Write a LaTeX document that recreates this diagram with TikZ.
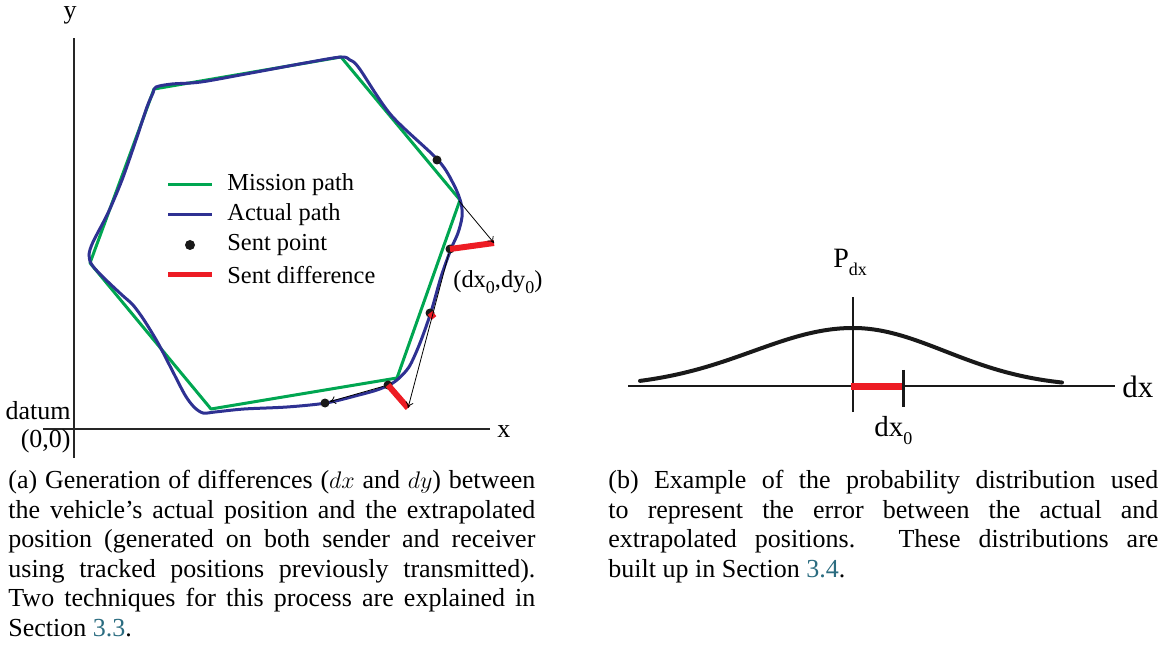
\documentclass[tikz,border=0pt]{standalone}
\usepackage{fontspec}
\setmainfont{Liberation Serif}
\usetikzlibrary{arrows.meta}
\definecolor{missiongreen}{HTML}{00A651}
\definecolor{actualblue}{HTML}{2E3192}
\definecolor{diffred}{HTML}{ED1C24}
\definecolor{linkteal}{HTML}{2B6C80}
\newcommand{\lowsub}[1]{\raisebox{-0.6ex}{\fontsize{9}{10}\selectfont #1}}
\newcommand{\capline}[2]{\hbox to #1{#2}}

\begin{document}
\begin{tikzpicture}[x=0.5pt,y=-0.5pt,font=\fontsize{12.2}{14.5}\selectfont,
 mission/.style={draw=missiongreen,line width=1.5pt,line join=round},
 actual/.style={draw=actualblue,line width=1.5pt},
 sentdiff/.style={draw=diffred,line width=3pt},
 sentpt/.style={circle,fill=black!90,inner sep=0pt,minimum size=4.5pt},
 extrap/.style={draw=black,line width=0.4pt,-{To[length=3pt,width=4pt]}},
 axis/.style={draw=black!85,line width=0.75pt},
 lbl/.style={font=\fontsize{13}{15}\selectfont,inner sep=0pt},
 legtext/.style={anchor=west,inner sep=0pt},
 caption/.style={anchor=north west,inner sep=0pt,align=left,font=\fontsize{13}{14.75}\selectfont}]
\useasboundingbox (0,0) rectangle (1164,658);
% (a) differences
\coordinate (ytop) at (74,38); \coordinate (ybot) at (74,458);
\coordinate (xleft) at (43,429); \coordinate (xright) at (490,429);
\draw[axis] (ybot) -- (ytop);
\draw[axis] (xleft) -- (xright);
\node[lbl] (ylbl) at (70,15) {y};
\node[lbl,anchor=west] (xlbl) at (497,432) {x};
\node[lbl,anchor=base east] (datum) at (71,420) {datum};
\node[lbl,anchor=base east] (origin) at (71,447) {(0,0)};
\draw[mission] (154,89) -- (341,57) -- (460,200) -- (397,378) -- (211,409) -- (90,263) -- cycle;
\draw[actual] plot[smooth cycle,tension=0.5] coordinates {(156,87) (172,84) (201,82) (251,73) (305,63) (341,57) (350,60) (359,68) (391,115) (438,160) (454,185) (461,203) (462,217) (458,233) (451,249) (441,277) (431,312) (420,343) (409,367) (397,380) (389,385) (377,390) (359,395) (326,403) (287,407) (244,409) (215,412) (203,413) (194,407) (185,395) (172,370) (158,343) (144,320) (133,305) (122,295) (104,278) (92,265) (89,255) (93,242) (108,213) (122,180) (136,140) (147,107) (153,93)};
\node[sentpt] (p1) at (437,160) {};
\node[sentpt] (p2) at (450,249) {};
\node[sentpt] (p3) at (430,313) {};
\node[sentpt] (p4) at (388,385) {};
\node[sentpt] (p5) at (325,403) {};
\coordinate (d2) at (494,243); \coordinate (d3) at (434,318); \coordinate (d4) at (408,408);
\coordinate (k1) at (459,201);
\draw[sentdiff] (p2.center) -- (d2);
\draw[sentdiff] (p3.center) -- (d3);
\draw[sentdiff] (p4.center) -- (d4);
\draw[extrap] (k1) -- (d2);
\draw[extrap] (p2) -- (d4);
\draw[extrap] (p4) -- (p5);
\node[legtext] (dlbl) at (453,282) {(dx\lowsub{0},dy\lowsub{0})};
% legend
\coordinate (lg1a) at (168,185); \coordinate (lg1b) at (212,185);
\coordinate (lg2a) at (168,215); \coordinate (lg2b) at (212,215);
\coordinate (lg4a) at (168,275); \coordinate (lg4b) at (212,275);
\draw[mission] (lg1a) -- (lg1b);
\draw[actual] (lg2a) -- (lg2b);
\node[sentpt,minimum size=5pt] (lgpt) at (190,245) {};
\draw[sentdiff,line width=2.5pt] (lg4a) -- (lg4b);
\node[legtext] (leg1) at (227,185) {Mission path};
\node[legtext] (leg2) at (227,215) {Actual path};
\node[legtext] (leg3) at (227,245) {Sent point};
\node[legtext] (leg4) at (227,275) {Sent difference};
% (b) distribution
\coordinate (dxl) at (628,386); \coordinate (dxr) at (1115,386);
\coordinate (pt) at (853,297); \coordinate (pb) at (853,412);
\coordinate (r0) at (851,386); \coordinate (r1) at (903,386);
\coordinate (t0) at (903,370); \coordinate (t1) at (903,407);
\draw[draw=black!90,line width=1pt] (dxl) -- (dxr);
\draw[draw=black!90,line width=1pt] (pb) -- (pt);
\draw[draw=black!90,line width=2pt,line cap=round] plot[domain=640:853,samples=50] ({\x},{387-59*exp(-0.5*pow((\x-853)/100,2))});
\draw[draw=black!90,line width=2pt,line cap=round] plot[domain=853:1062,samples=50] ({\x},{387-59*exp(-0.5*pow((\x-853)/92,2))});
\draw[sentdiff,line width=3.5pt] (r0) -- (r1);
\draw[draw=black!90,line width=1.5pt] (t0) -- (t1);
\node[lbl,anchor=base west,font=\fontsize{14}{16}\selectfont] (plbl) at (833,268) {P\lowsub{dx}};
\node[lbl,anchor=base west,font=\fontsize{15.5}{17}\selectfont] (dxlbl) at (1122,397) {dx};
\node[lbl,anchor=base west,font=\fontsize{14.5}{16}\selectfont] (dx0lbl) at (874,437) {dx\lowsub{0}};
% captions
\node[caption] (capa) at (8,470) {\capline{263.5pt}{(a) Generation of differences ($dx$ and $dy$) between}\\
 \capline{263.5pt}{the vehicle's actual position and the extrapolated}\\
 \capline{263.5pt}{position (generated on both sender and receiver}\\
 \capline{263.5pt}{using tracked positions previously transmitted).}\\
 \capline{263.5pt}{Two techniques for this process are explained in}\\
 Section \textcolor{linkteal}{3.3}.};
\node[caption] (capb) at (608,470) {\capline{275pt}{(b) Example of the probability distribution used}\\
 \capline{275pt}{to represent the error between the actual and}\\
 \capline{275pt}{extrapolated positions. These distributions are}\\
 built up in Section \textcolor{linkteal}{3.4}.};
\end{tikzpicture}
\end{document}
